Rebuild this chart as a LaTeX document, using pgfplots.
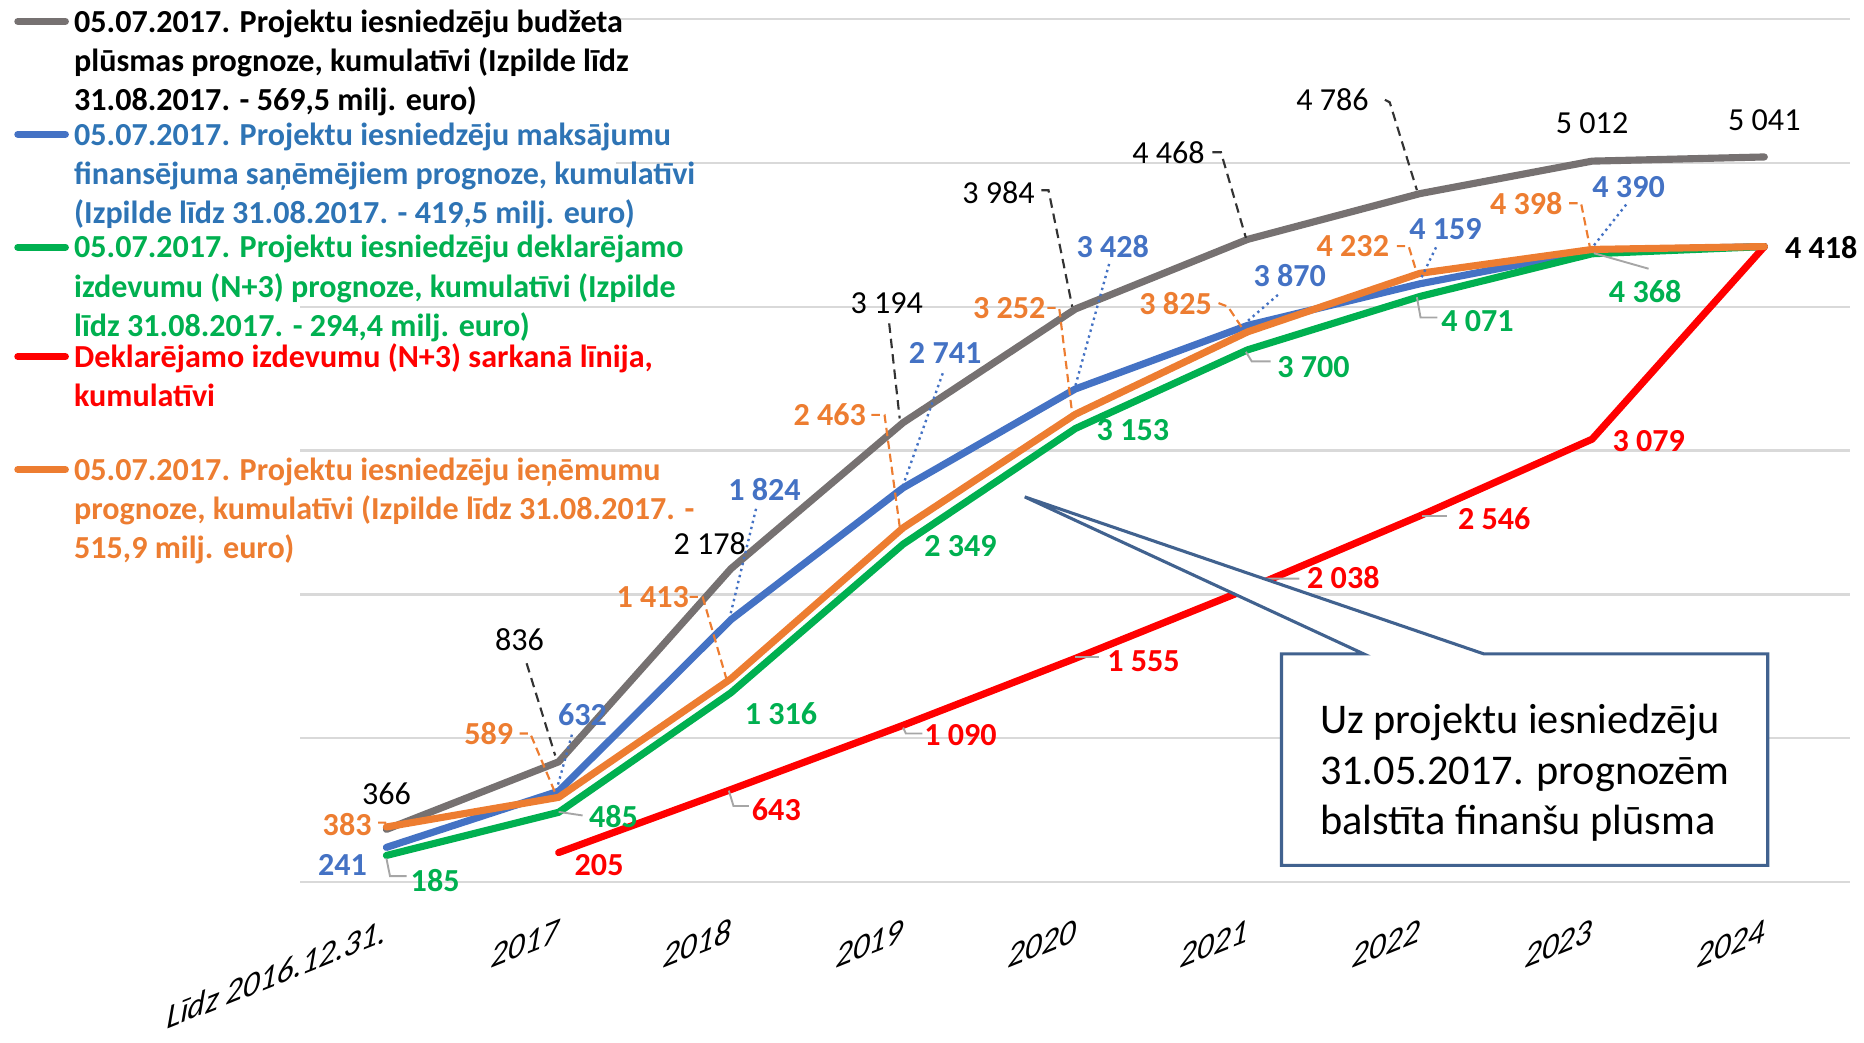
\documentclass[border=0pt]{standalone}
\usepackage{fontspec}
\setmainfont{Carlito}
\usepackage{pgfplots}
\pgfplotsset{compat=1.18}
\definecolor{cgrey}{HTML}{767171}
\definecolor{cblue}{HTML}{4472C4}
\definecolor{cbluet}{HTML}{2E74B5}
\definecolor{cgreen}{HTML}{00B050}
\definecolor{cred}{HTML}{FF0000}
\definecolor{corange}{HTML}{ED7D31}
\definecolor{cgrid}{HTML}{D9D9D9}
\definecolor{clead}{HTML}{A6A6A6}
\definecolor{ccall}{HTML}{41628F}
\newcommand{\legfont}{\fontsize{13.5pt}{16.5pt}\selectfont\bfseries}
\newcommand{\lblfont}{\fontsize{13.5pt}{16.5pt}\selectfont}
\newcommand{\lblbfont}{\fontsize{13.5pt}{16.5pt}\selectfont\bfseries}
\newcommand{\tickfont}{\fontsize{14pt}{17pt}\selectfont\itshape}
\newcommand{\callfont}{\fontsize{17.8pt}{21pt}\selectfont}
\begin{document}
\begin{tikzpicture}[
  lk/.style={font=\lblfont, text=black, inner sep=0pt},
  lb/.style={font=\lblbfont, text=cblue, inner sep=0pt},
  lo/.style={font=\lblbfont, text=corange, inner sep=0pt},
  lg/.style={font=\lblbfont, text=cgreen, inner sep=0pt},
  lr/.style={font=\lblbfont, text=cred, inner sep=0pt},
  dk/.style={draw=black!80, line width=0.9pt, dash pattern=on 4pt off 2.5pt},
  db/.style={draw=cblue, line width=1pt, dash pattern=on 1pt off 1.6pt},
  do/.style={draw=corange, line width=0.9pt, dash pattern=on 3.5pt off 2pt},
  dg/.style={draw=clead, line width=0.8pt},
  ser/.style={line width=3pt, line cap=round, line join=round, mark=none}
]
\path[use as bounding box] (-126.3pt,-67.5pt) rectangle (657.7pt,371pt);
\begin{axis}[
  at={(0,0)}, anchor=south west,
  scale only axis, width=652pt, height=363pt,
  xmin=-0.5, xmax=8.5, ymin=0, ymax=6000,
  axis line style={draw=none},
  major tick length=0pt,
  ytick={0,1000,2000,3000,4000,5000,6000}, yticklabels={},
  ymajorgrids, grid style={draw=cgrid, line width=1pt},
  xtick={0,1,2,3,4,5,6,7,8},
  xticklabels={Līdz 2016.12.31.,2017,2018,2019,2020,2021,2022,2023,2024},
  xticklabel style={font=\tickfont, anchor=base east, inner sep=0pt, yshift=-25pt, cm={1,0.4,0.07,1.05,(0,0)}},
  clip=false,
]
\addplot[ser, cgrey] coordinates {(0,366)(1,836)(2,2178)(3,3194)(4,3984)(5,4468)(6,4786)(7,5012)(8,5041)};
\addplot[ser, cblue] coordinates {(0,241)(1,632)(2,1824)(3,2741)(4,3428)(5,3870)(6,4159)(7,4390)(8,4418)};
\addplot[ser, cgreen] coordinates {(0,185)(1,485)(2,1316)(3,2349)(4,3153)(5,3700)(6,4071)(7,4368)(8,4418)};
\addplot[ser, cred] coordinates {(1,205)(2,643)(3,1090)(4,1555)(5,2038)(6,2546)(7,3079)(8,4418)};
\addplot[ser, corange] coordinates {(0,383)(1,589)(2,1413)(3,2463)(4,3252)(5,3825)(6,4232)(7,4398)(8,4418)};

% grey series labels
\node[lk] at (axis cs:0,611) {366};
\node[lk] at (axis cs:0.773,1686) {836};
\node[lk] at (axis cs:1.877,2355) {2 178};
\node[lk] at (axis cs:2.905,4025) {3 194};
\node[lk] at (axis cs:3.554,4793) {3 984};
\node[lk] at (axis cs:4.541,5074) {4 468};
\node[lk] at (axis cs:5.493,5438) {4 786};
\node[lk] at (axis cs:7.0,5273) {5 012};
\node[lk] at (axis cs:8.0,5297) {5 041};
\draw[dk] (axis cs:0.814,1521) -- (axis cs:0.98,880);
\draw[dk] (axis cs:2.919,3884) -- (axis cs:2.98,3223);
\draw[dk] (axis cs:3.803,4810) -- (axis cs:3.844,4810) -- (axis cs:3.982,4000);
\draw[dk] (axis cs:4.796,5074) -- (axis cs:4.845,5074) -- (axis cs:4.99,4479);
\draw[dk] (axis cs:5.797,5438) -- (axis cs:5.825,5421) -- (axis cs:5.983,4810);

% blue labels
\node[lb] at (axis cs:-0.255,116) {241};
\node[lb] at (axis cs:1.139,1165) {632};
\node[lb] at (axis cs:2.195,2727) {1 824};
\node[lb] at (axis cs:3.244,3677) {2 741};
\node[lb] at (axis cs:4.217,4421) {3 428};
\node[lb] at (axis cs:5.245,4215) {3 870};
\node[lb] at (axis cs:6.149,4537) {4 159};
\node[lb] at (axis cs:7.212,4834) {4 390};
\draw[db] (axis cs:1.077,1025) -- (axis cs:0.99,650);
\draw[db] (axis cs:2.146,2595) -- (axis cs:1.994,1843);
\draw[db] (axis cs:3.23,3537) -- (axis cs:3.0,2760);
\draw[db] (axis cs:4.196,4297) -- (axis cs:4.0,3450);
\draw[db] (axis cs:5.176,4082) -- (axis cs:5.0,3900);
\draw[db] (axis cs:6.094,4413) -- (axis cs:6.0,4180);
\draw[db] (axis cs:7.198,4710) -- (axis cs:7.0,4410);

% orange labels
\node[lo] at (axis cs:-0.228,397) {383};
\node[lo] at (axis cs:0.594,1033) {589};
\node[lo] at (axis cs:1.546,1983) {1 413};
\node[lo] at (axis cs:2.574,3248) {2 463};
\node[lo] at (axis cs:3.616,3992) {3 252};
\node[lo] at (axis cs:4.582,4025) {3 825};
\node[lo] at (axis cs:5.611,4421) {4 232};
\node[lo] at (axis cs:6.618,4719) {4 398};
\draw[do] (axis cs:-0.048,413) -- (axis cs:-0.007,413) -- (axis cs:0,383);
\draw[do] (axis cs:0.773,1033) -- (axis cs:0.835,1033) -- (axis cs:0.987,600);
\draw[do] (axis cs:1.76,1983) -- (axis cs:1.836,1983) -- (axis cs:1.974,1413);
\draw[do] (axis cs:2.816,3248) -- (axis cs:2.892,3248) -- (axis cs:2.981,2463);
\draw[do] (axis cs:3.837,3992) -- (axis cs:3.906,3992) -- (axis cs:3.982,3252);
\draw[do] (axis cs:4.831,4025) -- (axis cs:4.886,4000) -- (axis cs:4.983,3825);
\draw[do] (axis cs:5.866,4421) -- (axis cs:5.935,4421) -- (axis cs:5.983,4232);
\draw[do] (axis cs:6.867,4719) -- (axis cs:6.936,4719) -- (axis cs:6.99,4398);

% green labels
\node[lg] at (axis cs:0.283,8) {185};
\node[lg] at (axis cs:1.318,455) {485};
\node[lg] at (axis cs:2.291,1173) {1 316};
\node[lg] at (axis cs:3.333,2339) {2 349};
\node[lg] at (axis cs:4.334,3140) {3 153};
\node[lg] at (axis cs:5.383,3578) {3 700};
\node[lg] at (axis cs:6.335,3900) {4 071};
\node[lg] at (axis cs:7.308,4107) {4 368};
\draw[dg] (axis cs:0,165) -- (axis cs:0.021,41) -- (axis cs:0.117,41);
\draw[dg] (axis cs:1.0,488) -- (axis cs:1.139,463);
\draw[dg] (axis cs:4.99,3686) -- (axis cs:5.024,3620) -- (axis cs:5.134,3620);
\draw[dg] (axis cs:5.983,4066) -- (axis cs:6.004,3925) -- (axis cs:6.101,3925);
\draw[dg] (axis cs:7.01,4372) -- (axis cs:7.328,4264);

% red labels
\node[lr] at (axis cs:1.235,116) {205};
\node[lr] at (axis cs:2.264,504) {643};
\node[lr] at (axis cs:3.333,1025) {1 090};
\node[lr] at (axis cs:4.396,1537) {1 555};
\node[lr] at (axis cs:5.556,2116) {2 038};
\node[lr] at (axis cs:6.432,2529) {2 546};
\node[lr] at (axis cs:7.329,3066) {3 079};
\node[font=\lblbfont, text=black, inner sep=0pt] at (axis cs:8.33,4413) {4 418};
\draw[dg] (axis cs:1.988,636) -- (axis cs:2.015,529) -- (axis cs:2.105,529);
\draw[dg] (axis cs:3.0,1074) -- (axis cs:3.016,1033) -- (axis cs:3.112,1033);
\draw[dg] (axis cs:4.0,1562) -- (axis cs:4.135,1562);
\draw[dg] (axis cs:5.03,2060) -- (axis cs:5.1,2110) -- (axis cs:5.3,2110);
\draw[dg] (axis cs:6.01,2546) -- (axis cs:6.16,2546);
\end{axis}

\begin{scope}[x=0.5pt, y=-0.5pt, shift={(-126.3pt,371pt)}]
% cover gridlines behind top of legend
\fill[white] (250,0) rectangle (518,160);
% legend samples
\draw[cgrey, line width=3pt, line cap=round] (15,18) -- (55,18);
\draw[cblue, line width=3pt, line cap=round] (15,113) -- (55,113);
\draw[cgreen, line width=3pt, line cap=round] (15,208) -- (55,208);
\draw[cred, line width=3pt, line cap=round] (15,300) -- (55,300);
\draw[corange, line width=3pt, line cap=round] (15,395) -- (55,395);
\tikzset{lt/.style={anchor=base west, inner sep=0pt, font=\legfont}}
\node[lt, text=black] at (62,27) {05.07.2017. Projektu iesniedzēju budžeta};
\node[lt, text=black] at (62,60) {plūsmas prognoze, kumulatīvi (Izpilde līdz};
\node[lt, text=black] at (62,93) {31.08.2017. - 569,5 milj. euro)};
\node[lt, text=cbluet] at (62,122) {05.07.2017. Projektu iesniedzēju maksājumu};
\node[lt, text=cbluet] at (62,155) {finansējuma saņēmējiem prognoze, kumulatīvi};
\node[lt, text=cbluet] at (62,188) {(Izpilde līdz 31.08.2017. - 419,5 milj. euro)};
\node[lt, text=cgreen] at (62,217) {05.07.2017. Projektu iesniedzēju deklarējamo};
\node[lt, text=cgreen] at (62,250) {izdevumu (N+3) prognoze, kumulatīvi (Izpilde};
\node[lt, text=cgreen] at (62,283) {līdz 31.08.2017. - 294,4 milj. euro)};
\node[lt, text=cred] at (62,309) {Deklarējamo izdevumu (N+3) sarkanā līnija,};
\node[lt, text=cred] at (62,342) {kumulatīvi};
\node[lt, text=corange] at (62,404) {05.07.2017. Projektu iesniedzēju ieņēmumu};
\node[lt, text=corange] at (62,437) {prognoze, kumulatīvi (Izpilde līdz 31.08.2017. -};
\node[lt, text=corange] at (62,470) {515,9 milj. euro)};
% callout
\filldraw[fill=white, draw=ccall, line width=1.3pt, line join=miter]
  (862,418) -- (1147,550) -- (1078,550) -- (1078,728) -- (1487,728) -- (1487,550) -- (1248,550) -- cycle;
\tikzset{ct/.style={anchor=base west, inner sep=0pt, font=\callfont, text=black}}
\node[ct] at (1110,617) {Uz projektu iesniedzēju};
\node[ct] at (1110,660) {31.05.2017. prognozēm};
\node[ct] at (1110,702) {balstīta finanšu plūsma};
\end{scope}
\end{tikzpicture}
\end{document}
